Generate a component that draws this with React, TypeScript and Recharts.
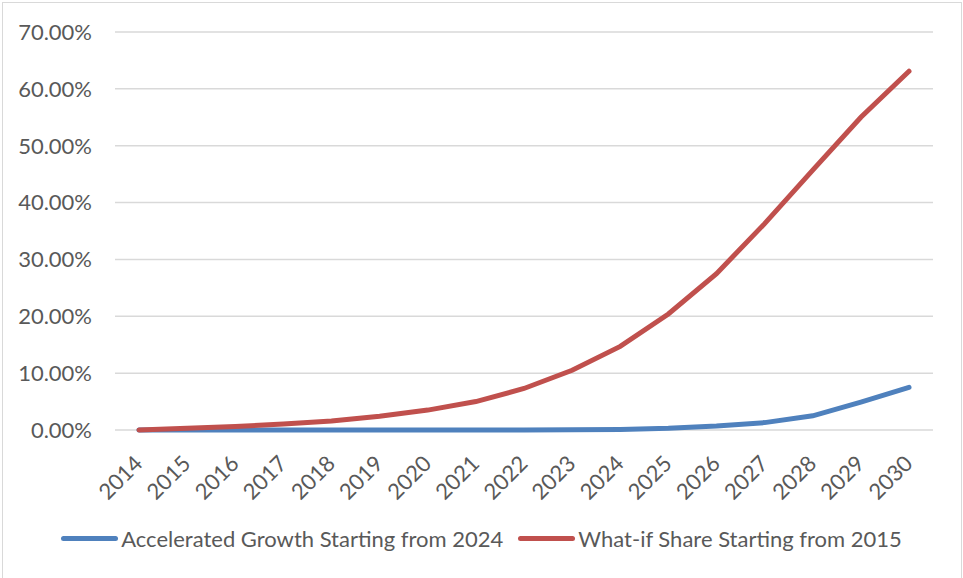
import { LineChart, Line, XAxis, YAxis, CartesianGrid } from "recharts";

const years = [
  "2014", "2015", "2016", "2017", "2018", "2019", "2020", "2021", "2022",
  "2023", "2024", "2025", "2026", "2027", "2028", "2029", "2030",
];

// percent values
const acceleratedGrowth = [
  0, 0, 0, 0, 0, 0, 0, 0, 0.02, 0.05, 0.1, 0.3, 0.7, 1.3, 2.5, 4.9, 7.5,
];
const whatIfShare = [
  0, 0.3, 0.6, 1.05, 1.6, 2.4, 3.5, 5.0, 7.3, 10.5, 14.7, 20.4, 27.5, 36.3,
  45.7, 55.0, 63.1,
];

const yTicks = [0, 10, 20, 30, 40, 50, 60, 70];

const seriesNames = [
  "Accelerated Growth Starting from 2024",
  "What-if Share Starting from 2015",
];
const BLUE = "#4f81bd";
const RED = "#c0504d";
const TEXT = "#595959";
const FONT = "Lato, 'Liberation Sans', Arial, sans-serif";
const FONT_SIZE = 22;

const data = years.map((year, i) => ({
  year,
  accelerated: acceleratedGrowth[i],
  whatIf: whatIfShare[i],
}));

function YearTick({ x, y, payload }: any) {
  const ax = x + 5;
  const ay = y + 35;
  return (
    <text
      x={ax}
      y={ay}
      transform={`rotate(-45 ${ax} ${ay})`}
      textAnchor="end"
      fill={TEXT}
      fontSize={FONT_SIZE}
      fontFamily={FONT}
    >
      {payload.value}
    </text>
  );
}

function BottomLegend() {
  const items = [
    { name: seriesNames[0], color: BLUE },
    { name: seriesNames[1], color: RED },
  ];
  return (
    <div
      style={{
        position: "absolute",
        left: 0,
        top: 525,
        width: 963,
        display: "flex",
        justifyContent: "center",
        alignItems: "center",
        gap: 15,
        fontFamily: FONT,
        fontSize: FONT_SIZE,
        color: TEXT,
      }}
    >
      {items.map((it) => (
        <div key={it.name} style={{ display: "flex", alignItems: "center" }}>
          <span
            style={{
              display: "inline-block",
              width: 57,
              height: 5,
              borderRadius: 3,
              background: it.color,
              marginRight: 3,
            }}
          />
          <span>{it.name}</span>
        </div>
      ))}
    </div>
  );
}

export default function App() {
  return (
    <div
      style={{
        position: "absolute",
        left: 0,
        top: 0,
        width: 963,
        height: 578,
        background: "#fff",
        overflow: "hidden",
      }}
    >
      <div
        style={{
          position: "absolute",
          left: 2,
          top: 2,
          width: 960,
          height: 590,
          border: "1px solid #d9d9d9",
          boxSizing: "border-box",
        }}
      />
      <LineChart
        width={963}
        height={578}
        data={data}
        margin={{ top: 32, right: 30, bottom: 0, left: 15 }}
      >
        <CartesianGrid vertical={false} stroke="#d9d9d9" strokeWidth={1.5} />
        <XAxis
          dataKey="year"
          axisLine={false}
          tickLine={false}
          tickSize={0}
          tickMargin={0}
          height={148}
          interval={0}
          padding={{ left: 24, right: 24 }}
          tick={<YearTick />}
        />
        <YAxis
          domain={[0, 70]}
          ticks={yTicks}
          width={100}
          axisLine={false}
          tickLine={false}
          tickSize={0}
          tickMargin={23}
          tick={{ fill: TEXT, fontSize: FONT_SIZE, fontFamily: FONT }}
          tickFormatter={(v: number) => `${v.toFixed(2)}%`}
        />
        <Line
          type="linear"
          dataKey="accelerated"
          name={seriesNames[0]}
          stroke={BLUE}
          strokeWidth={5}
          strokeLinecap="round"
          dot={false}
          isAnimationActive={false}
        />
        <Line
          type="linear"
          dataKey="whatIf"
          name={seriesNames[1]}
          stroke={RED}
          strokeWidth={5}
          strokeLinecap="round"
          dot={false}
          isAnimationActive={false}
        />
      </LineChart>
      <BottomLegend />
    </div>
  );
}
